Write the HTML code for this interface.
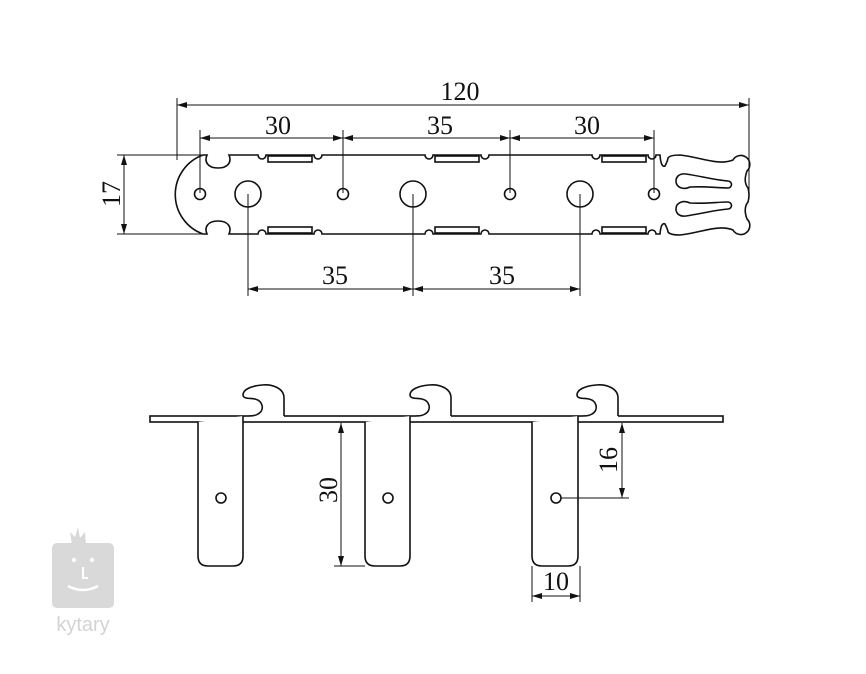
<!DOCTYPE html>
<html><head><meta charset="utf-8"><style>
html,body{margin:0;padding:0;background:#fff}
svg{display:block}
text{font-family:"Liberation Serif",serif;fill:#111}
</style></head><body>
<svg width="866" height="674" viewBox="0 0 866 674" xmlns="http://www.w3.org/2000/svg">
<defs>
<marker id="a" viewBox="0 0 10 6" refX="10" refY="3" markerWidth="10" markerHeight="6" orient="auto-start-reverse" markerUnits="userSpaceOnUse"><path d="M0,0 L10,3 L0,6 Z" fill="#111"/></marker>
</defs>
<g fill="none" stroke="#111" stroke-width="1">
<line x1="177" y1="98" x2="177" y2="160"/>
<line x1="749" y1="98" x2="749" y2="195"/>
<line x1="177" y1="105" x2="749" y2="105" marker-start="url(#a)" marker-end="url(#a)"/>
<line x1="200" y1="130" x2="200" y2="193"/>
<line x1="343" y1="130" x2="343" y2="193"/>
<line x1="510" y1="130" x2="510" y2="193"/>
<line x1="654" y1="130" x2="654" y2="193"/>
<line x1="200" y1="138" x2="343" y2="138" marker-start="url(#a)" marker-end="url(#a)"/>
<line x1="343" y1="138" x2="510" y2="138" marker-start="url(#a)" marker-end="url(#a)"/>
<line x1="510" y1="138" x2="654" y2="138" marker-start="url(#a)" marker-end="url(#a)"/>
<line x1="117" y1="155" x2="205" y2="155"/>
<line x1="117" y1="234" x2="205" y2="234"/>
<line x1="124" y1="155" x2="124" y2="234" marker-start="url(#a)" marker-end="url(#a)"/>
<line x1="248" y1="194" x2="248" y2="296"/>
<line x1="413" y1="194" x2="413" y2="296"/>
<line x1="580" y1="194" x2="580" y2="296"/>
<line x1="248" y1="289" x2="413" y2="289" marker-start="url(#a)" marker-end="url(#a)"/>
<line x1="413" y1="289" x2="580" y2="289" marker-start="url(#a)" marker-end="url(#a)"/>
</g>
<g fill="none" stroke="#111" stroke-width="1.6">
<path d="M203,155 L207,155 C204,162 208,168 218,168 C228,168 232,162 229,155 L258,155 A4,4 0 0 0 266,155 L314,155 A4,4 0 0 0 322,155 L425,155 A4,4 0 0 0 433,155 L481,155 A4,4 0 0 0 489,155 L592,155 A4,4 0 0 0 600,155 L648,155 A4,4 0 0 0 656,155 L660,155 Q661,168 665,166 Q668,160 668,158 Q670,155 680,155 C700,157 718,166 733,160 A9,9 0 1 1 747,171 Q743,182 748,188 Q750,195 748,202 Q743,208 747,219 A9,9 0 1 1 733,230 C718,224 700,233 680,235 Q670,235 668,232 Q668,230 665,224 Q661,222 660,234 L656,234 A4,4 0 0 0 648,234 L600,234 A4,4 0 0 0 592,234 L489,234 A4,4 0 0 0 481,234 L433,234 A4,4 0 0 0 425,234 L322,234 A4,4 0 0 0 314,234 L266,234 A4,4 0 0 0 258,234 L229,234 C232,227 228,221 218,221 C208,221 204,227 207,234 L203,234 A42,42 0 0 1 203,155 Z"/>
<rect x="268" y="156" width="44" height="6"/><rect x="435" y="156" width="44" height="6"/><rect x="602" y="156" width="44" height="6"/>
<rect x="268" y="227" width="44" height="6"/><rect x="435" y="227" width="44" height="6"/><rect x="602" y="227" width="44" height="6"/>
<path d="M686,174 C678,173 676,178 676,181 C676,188 684,190 690,187 C705,186 718,188 728,188 A3.5,3.5 0 0 0 728,181 C715,180 700,176 686,174 Z"/>
<path d="M686,216 C678,217 676,212 676,209 C676,202 684,200 690,203 C705,204 718,202 728,202 A3.5,3.5 0 0 1 728,209 C715,210 700,214 686,216 Z"/>
<circle cx="200" cy="194" r="5.5"/><circle cx="343" cy="194" r="5.5"/><circle cx="510" cy="194" r="5.5"/><circle cx="654" cy="194" r="5.5"/>
<circle cx="248" cy="194" r="13"/><circle cx="413" cy="194" r="13"/><circle cx="580" cy="194" r="13"/>
</g>
<g fill="#fff" stroke="#111" stroke-width="1.6">
<rect x="150" y="416" width="573" height="6"/>
<path d="M198,422 L198,556 Q198,566 208,566 L233,566 Q243,566 243,556 L243,416"/>
<path d="M365,422 L365,556 Q365,566 375,566 L400,566 Q410,566 410,556 L410,416"/>
<path d="M532,422 L532,556 Q532,566 542,566 L568,566 Q578,566 578,556 L578,416"/>
<g id="h"><path d="M284,417 L284,398 C284,388 272,384 262,385 C250,386 243,390 243,395 C243,399 250,398 255,399 C263,401 265,410 258,414 C255,416 252,416 249,416 L249,417 Z" stroke="none"/>
<path d="M284,416 L284,398 C284,388 272,384 262,385 C250,386 243,390 243,395 C243,399 250,398 255,399 C263,401 265,410 258,414 C255,416 252,416 249,416" fill="none"/></g>
<use href="#h" x="167"/><use href="#h" x="334"/>
<circle cx="221" cy="498" r="5"/><circle cx="388" cy="498" r="5"/><circle cx="556" cy="498" r="5"/>
</g>
<g fill="none" stroke="#111" stroke-width="1">
<line x1="334" y1="566" x2="365" y2="566"/>
<line x1="341" y1="423" x2="341" y2="566" marker-start="url(#a)" marker-end="url(#a)"/>
<line x1="561" y1="498" x2="629" y2="498"/>
<line x1="622" y1="423" x2="622" y2="498" marker-start="url(#a)" marker-end="url(#a)"/>
<line x1="532" y1="566" x2="532" y2="602"/>
<line x1="580" y1="566" x2="580" y2="602"/>
<line x1="532" y1="596" x2="580" y2="596" marker-start="url(#a)" marker-end="url(#a)"/>
</g>
<g font-size="26" text-anchor="middle">
<text x="460" y="100">120</text>
<text x="278" y="134">30</text>
<text x="440" y="134">35</text>
<text x="587" y="134">30</text>
<text x="335" y="284">35</text>
<text x="502" y="284">35</text>
<text transform="translate(120,194) rotate(-90)">17</text>
<text transform="translate(337,490) rotate(-90)">30</text>
<text transform="translate(617,460) rotate(-90)">16</text>
<text x="556" y="590">10</text>
</g>
<g fill="#d9d9d9">
<path d="M72,545 L70,532 L75,537 L78,527 L80,538 L85,532 L86,545 Z"/>
<rect x="52" y="543" width="62" height="65" rx="5"/>
</g>
<g fill="#fff"><circle cx="74" cy="560" r="2.2"/><circle cx="92" cy="560" r="2.2"/><rect x="82" y="567" width="2" height="12"/><rect x="82" y="577" width="6" height="2"/></g>
<path d="M68,586 Q83,594 98,586" stroke="#fff" stroke-width="2.5" fill="none"/>
<text x="83" y="631" font-size="20" text-anchor="middle" style="font-family:'Liberation Sans',sans-serif;fill:#d3d3d3">kytary</text>
</svg>
</body></html>
